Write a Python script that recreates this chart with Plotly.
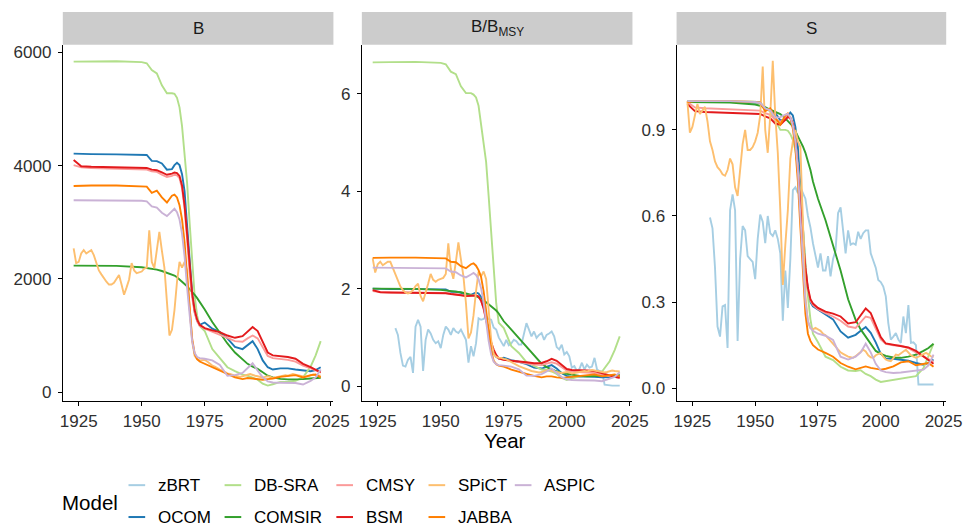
import plotly.graph_objects as go

# ---------------- data ----------------
models = ["zBRT", "OCOM", "DB-SRA", "COMSIR", "CMSY", "BSM", "SPiCT", "JABBA", "ASPIC"]
colors = ["#A6CEE3", "#1F78B4", "#B2DF8A", "#33A02C", "#FB9A99", "#E31A1C", "#FDBF6F", "#FF7F00", "#CAB2D6"]
panel_titles = ["B", "B/B<sub>MSY</sub>", "S"]

# common year grid for the smooth model trajectories
grid_years = [1923, 1926, 1930, 1940, 1950, 1952, 1954, 1956, 1958, 1960,
              1962, 1963, 1964, 1965, 1966, 1967, 1968, 1969, 1970, 1971, 1972, 1973,
              1975, 1978, 1981, 1984, 1987, 1990,
              1992, 1994, 1996, 1998, 2000,
              2002, 2005, 2008, 2011, 2014, 2017, 2019, 2021]

# ---- panel B (biomass)
b_ocom = [4213, 4208, 4205, 4200, 4195, 4190, 4085, 4080, 4040, 3930,
          3940, 4010, 4050, 4010, 3850, 3550, 2950, 2250, 1750, 1420, 1260, 1190,
          1230, 1120, 1060, 950, 800, 760,
          830, 900, 760, 560, 440,
          400, 420, 420, 400, 380, 370, 390, 440]
b_dbsra = [5838, 5840, 5840, 5845, 5830, 5810, 5690, 5630, 5420, 5280,
           5280, 5270, 5200, 5030, 4700, 4200, 3700, 3000, 2300, 1700, 1350, 1170,
           1080, 760, 600, 440, 370, 310,
           290, 260, 220, 150, 115,
           140, 180, 185, 200, 260, 450, 650, 900]
b_comsir = [2235, 2235, 2235, 2230, 2205, 2195, 2180, 2165, 2140, 2110,
            2080, 2060, 2030, 1990, 1960, 1920, 1870, 1820, 1775, 1720, 1660, 1600,
            1460, 1240, 1040, 860, 700, 570,
            500, 450, 410, 350, 290,
            260, 235, 225, 225, 230, 240, 250, 255]
b_cmsy = [4010, 3970, 3960, 3950, 3940, 3930, 3900, 3890, 3840, 3800,
          3820, 3840, 3830, 3780, 3600, 3250, 2700, 2100, 1680, 1400, 1250, 1170,
          1120, 1070, 1020, 960, 900, 890,
          950, 1000, 950, 800, 640,
          600, 590, 570, 540, 470, 420, 380, 350]
b_bsm = [4100, 3990, 3980, 3970, 3960, 3960, 3930, 3920, 3880, 3840,
         3860, 3880, 3870, 3820, 3650, 3300, 2800, 2200, 1750, 1450, 1280, 1190,
         1130, 1090, 1060, 1000, 960, 990,
         1070, 1150, 1080, 900, 700,
         650, 640, 620, 590, 500, 440, 400, 350]
b_jabba = [3640, 3650, 3650, 3650, 3640, 3630, 3520, 3560, 3440, 3350,
           3470, 3490, 3440, 3300, 3050, 2650, 2050, 1450, 950, 680, 580, 540,
           500, 440, 380, 310, 260, 230,
           250, 240, 230, 220, 230,
           240, 270, 290, 300, 260, 300, 310, 260]
b_aspic = [3390, 3390, 3390, 3390, 3380, 3370, 3280, 3260, 3170, 3110,
           3200, 3240, 3180, 3050, 2800, 2400, 1850, 1300, 900, 690, 620, 600,
           590, 560, 480, 290, 300, 340,
           420, 510, 380, 260, 190,
           170, 165, 165, 160, 135, 200, 260, 400]

# ---- panel B/BMSY
r_ocom = [2.0, 1.995, 1.99, 1.99, 1.99, 1.985, 1.935, 1.935, 1.915, 1.86,
          1.87, 1.90, 1.92, 1.90, 1.83, 1.68, 1.40, 1.07, 0.83, 0.67, 0.60, 0.565,
          0.58, 0.53, 0.50, 0.45, 0.38, 0.36,
          0.39, 0.43, 0.36, 0.265, 0.21,
          0.19, 0.20, 0.20, 0.19, 0.18, 0.175, 0.185, 0.21]
r_dbsra = [6.64, 6.645, 6.645, 6.65, 6.63, 6.60, 6.45, 6.40, 6.15, 6.01,
           6.01, 5.98, 5.92, 5.75, 5.40, 5.00, 4.60, 3.90, 3.20, 2.30, 1.70, 1.30,
           1.19, 0.82, 0.68, 0.49, 0.41, 0.34,
           0.33, 0.30, 0.25, 0.17, 0.125,
           0.16, 0.20, 0.20, 0.23, 0.30, 0.51, 0.74, 1.02]
r_comsir = [2.0, 2.0, 2.0, 1.995, 1.975, 1.965, 1.955, 1.945, 1.925, 1.90,
            1.88, 1.865, 1.845, 1.82, 1.79, 1.76, 1.72, 1.68, 1.64, 1.595, 1.55, 1.49,
            1.33, 1.16, 0.98, 0.82, 0.63, 0.46,
            0.39, 0.34, 0.30, 0.27, 0.25,
            0.23, 0.21, 0.20, 0.20, 0.205, 0.215, 0.225, 0.23]
r_cmsy = [1.95, 1.93, 1.92, 1.92, 1.915, 1.91, 1.895, 1.89, 1.87, 1.85,
          1.86, 1.87, 1.865, 1.84, 1.75, 1.58, 1.32, 1.06, 0.85, 0.70, 0.61, 0.57,
          0.54, 0.52, 0.50, 0.47, 0.44, 0.43,
          0.46, 0.49, 0.46, 0.39, 0.32,
          0.30, 0.29, 0.28, 0.27, 0.23, 0.20, 0.185, 0.17]
r_bsm = [1.97, 1.925, 1.92, 1.91, 1.91, 1.905, 1.89, 1.885, 1.865, 1.845,
         1.855, 1.865, 1.86, 1.84, 1.75, 1.60, 1.35, 1.10, 0.90, 0.75, 0.64, 0.57,
         0.54, 0.52, 0.51, 0.49, 0.47, 0.475,
         0.51, 0.56, 0.52, 0.43, 0.35,
         0.33, 0.33, 0.32, 0.31, 0.26, 0.21, 0.19, 0.17]
r_jabba = [2.63, 2.635, 2.635, 2.635, 2.63, 2.62, 2.55, 2.54, 2.46, 2.42,
           2.50, 2.52, 2.47, 2.38, 2.24, 1.95, 1.55, 1.10, 0.72, 0.52, 0.45, 0.42,
           0.40, 0.34, 0.29, 0.25, 0.21, 0.18,
           0.20, 0.20, 0.18, 0.17, 0.18,
           0.19, 0.21, 0.22, 0.24, 0.20, 0.23, 0.24, 0.20]
r_aspic = [2.43, 2.43, 2.43, 2.43, 2.425, 2.415, 2.35, 2.335, 2.27, 2.23,
           2.29, 2.32, 2.28, 2.19, 2.01, 1.72, 1.33, 0.93, 0.65, 0.50, 0.45, 0.43,
           0.42, 0.40, 0.345, 0.215, 0.21, 0.245,
           0.30, 0.365, 0.27, 0.185, 0.14,
           0.125, 0.12, 0.12, 0.115, 0.10, 0.145, 0.19, 0.285]

# ---- panel S
s_ocom = [1.0, 0.999, 0.998, 0.997, 0.996, 0.995, 0.97, 0.968, 0.959, 0.933,
          0.935, 0.95, 0.96, 0.95, 0.91, 0.84, 0.70, 0.53, 0.42, 0.34, 0.30, 0.285,
          0.275, 0.257, 0.24, 0.198, 0.176, 0.186,
          0.20, 0.213, 0.193, 0.16, 0.12,
          0.104, 0.103, 0.10, 0.096, 0.088, 0.082, 0.088, 0.10]
s_dbsra = [1.0, 1.0, 1.0, 1.0, 0.998, 0.995, 0.975, 0.965, 0.93, 0.90,
           0.90, 0.897, 0.885, 0.865, 0.83, 0.77, 0.68, 0.56, 0.44, 0.32, 0.24, 0.19,
           0.16, 0.11, 0.098, 0.075, 0.062, 0.06,
           0.063, 0.05, 0.042, 0.03, 0.022,
           0.025, 0.03, 0.033, 0.037, 0.042, 0.07, 0.11, 0.155]
s_comsir = [0.997, 0.997, 0.997, 0.995, 0.988, 0.984, 0.979, 0.97, 0.962, 0.955,
            0.94, 0.93, 0.92, 0.912, 0.895, 0.875, 0.86, 0.842, 0.82, 0.79, 0.76, 0.72,
            0.66, 0.585, 0.50, 0.41, 0.31, 0.238,
            0.205, 0.18, 0.155, 0.13, 0.12,
            0.113, 0.107, 0.106, 0.11, 0.117, 0.13, 0.14, 0.155]
s_cmsy = [0.997, 0.978, 0.975, 0.972, 0.97, 0.967, 0.958, 0.952, 0.935, 0.928,
          0.94, 0.948, 0.945, 0.925, 0.865, 0.77, 0.645, 0.52, 0.41, 0.345, 0.305, 0.29,
          0.275, 0.262, 0.25, 0.235, 0.215, 0.21,
          0.232, 0.25, 0.245, 0.21, 0.17,
          0.155, 0.15, 0.148, 0.14, 0.125, 0.11, 0.10, 0.092]
s_bsm = [0.99, 0.965, 0.962, 0.96, 0.958, 0.955, 0.947, 0.94, 0.922, 0.918,
         0.935, 0.945, 0.94, 0.92, 0.86, 0.76, 0.64, 0.52, 0.42, 0.35, 0.31, 0.295,
         0.28, 0.267, 0.26, 0.25, 0.226, 0.23,
         0.255, 0.278, 0.262, 0.22, 0.178,
         0.156, 0.152, 0.147, 0.142, 0.13, 0.11, 0.098, 0.085]
s_jabba = [0.997, 1.0, 1.0, 1.0, 0.997, 0.995, 0.965, 0.975, 0.942, 0.918,
           0.95, 0.957, 0.942, 0.904, 0.835, 0.72, 0.56, 0.40, 0.26, 0.19, 0.165, 0.15,
           0.135, 0.123, 0.11, 0.088, 0.075, 0.066,
           0.072, 0.076, 0.071, 0.068, 0.065,
           0.068, 0.076, 0.09, 0.094, 0.08, 0.086, 0.088, 0.075]
s_aspic = [1.0, 1.0, 1.0, 1.0, 0.997, 0.994, 0.975, 0.968, 0.942, 0.944,
           0.953, 0.956, 0.944, 0.915, 0.86, 0.76, 0.60, 0.43, 0.30, 0.235, 0.21, 0.20,
           0.19, 0.183, 0.168, 0.11, 0.10, 0.11,
           0.125, 0.155, 0.125, 0.085, 0.062,
           0.056, 0.053, 0.055, 0.058, 0.06, 0.065, 0.08, 0.117]

# ---- annual series (noisy models)
spict_years = list(range(1923, 2022))
spict_b = [2540, 2280, 2300, 2450, 2510, 2450, 2480, 2510, 2420, 2300,
           2150, 2080, 2010, 1950, 1900, 1900, 1930, 2000, 2070, 1900,
           1720, 1850, 1990, 2280, 2150, 2100, 2120, 2130, 2180, 2200,
           2860, 2300, 2190, 2500, 2830, 2500, 2200, 1600, 1000, 1100,
           1450, 1950, 2300, 2200, 2300, 2150, 1500, 900, 640, 580,
           560, 560, 570, 540, 500, 470, 450, 420, 400, 380,
           350, 330, 320, 300, 290, 280, 270, 280, 300, 310,
           320, 300, 290, 280, 270, 260, 270, 280, 270, 250,
           260, 270, 280, 290, 300, 290, 300, 320, 310, 300,
           290, 280, 270, 280, 300, 310, 300, 290, 290]
spict_r = [2.62, 2.33, 2.50, 2.55, 2.48, 2.52, 2.55, 2.55, 2.42, 2.28,
           2.15, 2.04, 1.97, 1.92, 1.90, 1.92, 1.97, 2.05, 2.10, 1.85,
           1.74, 1.95, 2.10, 2.30, 2.18, 2.14, 2.18, 2.20, 2.22, 2.30,
           2.93, 2.40, 2.20, 2.55, 2.95, 2.60, 2.25, 1.70, 0.98, 1.10,
           1.45, 1.95, 2.35, 2.25, 2.35, 2.20, 1.60, 0.95, 0.66, 0.60,
           0.58, 0.58, 0.56, 0.55, 0.52, 0.49, 0.46, 0.44, 0.41, 0.39,
           0.37, 0.34, 0.33, 0.31, 0.30, 0.29, 0.28, 0.29, 0.31, 0.32,
           0.33, 0.31, 0.30, 0.29, 0.28, 0.27, 0.28, 0.29, 0.28, 0.26,
           0.27, 0.28, 0.29, 0.30, 0.31, 0.30, 0.31, 0.33, 0.32, 0.31,
           0.30, 0.29, 0.28, 0.29, 0.31, 0.32, 0.31, 0.30, 0.30]
spict_s = [1.00, 0.89, 0.91, 0.95, 0.99, 0.955, 0.97, 0.98, 0.93, 0.86,
           0.83, 0.79, 0.77, 0.76, 0.745, 0.74, 0.76, 0.80, 0.78, 0.70,
           0.67, 0.76, 0.85, 0.90, 0.83, 0.83, 0.84, 0.86, 0.89, 0.95,
           1.12, 0.90, 0.82, 0.95, 1.14, 0.95, 0.82, 0.62, 0.36, 0.50,
           0.62, 0.80, 0.86, 0.90, 0.86, 0.84, 0.55, 0.32, 0.23, 0.21,
           0.205, 0.21, 0.205, 0.20, 0.19, 0.185, 0.175, 0.165, 0.155, 0.145,
           0.135, 0.125, 0.12, 0.115, 0.11, 0.108, 0.106, 0.112, 0.12, 0.128,
           0.134, 0.128, 0.115, 0.108, 0.106, 0.115, 0.12, 0.123, 0.11, 0.10,
           0.096, 0.094, 0.105, 0.117, 0.115, 0.12, 0.128, 0.134, 0.125, 0.115,
           0.11, 0.106, 0.11, 0.115, 0.12, 0.123, 0.118, 0.111, 0.11]

zbrt_years = list(range(1932, 2022))
zbrt_r = [1.19, 1.05, 0.68, 0.42, 0.40, 0.54, 0.60, 0.27, 1.22, 1.36,
          1.22, 0.31, 0.95, 1.16, 1.08, 0.95, 0.88, 0.92, 0.78, 1.05,
          1.22, 1.16, 1.05, 1.19, 1.12, 1.09, 1.16, 1.05, 0.95, 0.48,
          0.82, 0.61, 0.88, 1.39, 1.36, 1.38, 1.43, 1.38, 1.36, 1.20,
          1.16, 1.00, 0.90, 0.82, 0.95, 0.84, 0.88, 0.95, 0.92, 0.85,
          0.85, 1.05, 1.29, 1.16, 1.02, 1.12, 0.99, 1.05, 1.09, 0.95,
          1.05, 1.08, 1.12, 1.02, 0.80, 0.75, 0.85, 0.65, 0.70, 0.61,
          0.38, 0.41, 0.31, 0.35, 0.48, 0.34, 0.44, 0.38, 0.40, 0.58,
          0.34, 0.31, 0.30, 0.03, 0.02, 0.01, 0.01, 0.01, 0.01, 0.01]
zbrt_s = [0.595, 0.557, 0.42, 0.215, 0.18, 0.285, 0.29, 0.14, 0.62, 0.675,
          0.62, 0.165, 0.45, 0.565, 0.55, 0.46, 0.45, 0.44, 0.38, 0.52,
          0.605, 0.58, 0.505, 0.60, 0.54, 0.53, 0.55, 0.52, 0.47, 0.235,
          0.41, 0.28, 0.45, 0.69, 0.70, 0.68, 0.70, 0.68, 0.66, 0.60,
          0.56, 0.505, 0.46, 0.42, 0.47, 0.41, 0.41, 0.46, 0.39, 0.45,
          0.48, 0.61, 0.63, 0.55, 0.47, 0.55, 0.50, 0.505, 0.50, 0.545,
          0.52, 0.54, 0.55, 0.55, 0.47, 0.445, 0.42, 0.377, 0.37, 0.354,
          0.32, 0.227, 0.169, 0.18, 0.192, 0.17, 0.158, 0.25, 0.192, 0.29,
          0.158, 0.16, 0.15, 0.013, 0.013, 0.013, 0.013, 0.013, 0.013, 0.013]

y_ticks = [[0, 2000, 4000, 6000], [0, 2, 4, 6], [0.0, 0.3, 0.6, 0.9]]
y_ticktext = [["0", "2000", "4000", "6000"], ["0", "2", "4", "6"], ["0.0", "0.3", "0.6", "0.9"]]
x_ticks = [1925, 1950, 1975, 2000, 2025]

# ---------------- assemble ----------------
panel_series = [
    {"OCOM": (grid_years, b_ocom), "DB-SRA": (grid_years, b_dbsra), "COMSIR": (grid_years, b_comsir),
     "CMSY": (grid_years, b_cmsy), "BSM": (grid_years, b_bsm), "SPiCT": (spict_years, spict_b),
     "JABBA": (grid_years, b_jabba), "ASPIC": (grid_years, b_aspic)},
    {"zBRT": (zbrt_years, zbrt_r), "OCOM": (grid_years, r_ocom), "DB-SRA": (grid_years, r_dbsra),
     "COMSIR": (grid_years, r_comsir), "CMSY": (grid_years, r_cmsy), "BSM": (grid_years, r_bsm),
     "SPiCT": (spict_years, spict_r), "JABBA": (grid_years, r_jabba), "ASPIC": (grid_years, r_aspic)},
    {"zBRT": (zbrt_years, zbrt_s), "OCOM": (grid_years, s_ocom), "DB-SRA": (grid_years, s_dbsra),
     "COMSIR": (grid_years, s_comsir), "CMSY": (grid_years, s_cmsy), "BSM": (grid_years, s_bsm),
     "SPiCT": (spict_years, spict_s), "JABBA": (grid_years, s_jabba), "ASPIC": (grid_years, s_aspic)},
]

W, H = 972, 527


def fx(px):
    return px / W


def fy(py):
    return 1 - py / H


FONT = "Liberation Sans, Arial, Helvetica, sans-serif"
TXT = "#303030"
SMALL = 17
BIG = 20.5
panel_px = [(61, 337), (366, 642), (687, 962)]
plot_top, plot_bot = 44, 402
strip_top = 11
y_ranges = [[-165, 6135], [-0.315, 7.0], [-0.046, 1.196]]
x_range = [1918.7, 2026.05]

fig = go.Figure()
layout = dict(width=W, height=H, margin=dict(l=0, r=0, t=0, b=0),
              paper_bgcolor="white", plot_bgcolor="white", showlegend=False,
              font=dict(family=FONT, color=TXT))
shapes, annotations = [], []

for i in range(3):
    xa = "x" if i == 0 else f"x{i+1}"
    ya = "y" if i == 0 else f"y{i+1}"
    x0, x1 = panel_px[i]
    layout["xaxis" if i == 0 else f"xaxis{i+1}"] = dict(
        domain=[fx(x0), fx(x1)], anchor=ya, range=x_range, tickvals=x_ticks,
        showline=True, linecolor="black", linewidth=1, ticks="outside", ticklen=4,
        tickcolor="black", tickwidth=1, showgrid=False, zeroline=False,
        tickfont=dict(size=SMALL, color=TXT, family=FONT))
    layout["yaxis" if i == 0 else f"yaxis{i+1}"] = dict(
        domain=[fy(plot_bot), fy(plot_top)], anchor=xa, range=y_ranges[i],
        tickvals=y_ticks[i], ticktext=y_ticktext[i],
        showline=True, linecolor="black", linewidth=1, ticks="outside", ticklen=4,
        tickcolor="black", tickwidth=1, showgrid=False, zeroline=False,
        ticklabelstandoff=3,
        tickfont=dict(size=SMALL, color=TXT, family=FONT))
    for m, c in zip(models, colors):
        if m in panel_series[i]:
            xs, ys = panel_series[i][m]
            fig.add_trace(go.Scatter(x=xs, y=ys, mode="lines", name=m,
                                     line=dict(color=c, width=1.9),
                                     xaxis=xa, yaxis=ya, showlegend=False))
    # strip
    shapes.append(dict(type="rect", xref="paper", yref="paper", x0=fx(x0), x1=fx(x1),
                       y0=fy(plot_top), y1=fy(strip_top),
                       fillcolor="#CCCCCC", line=dict(width=0), layer="below"))
    annotations.append(dict(text=panel_titles[i], xref="paper", yref="paper",
                            x=fx((x0 + x1) / 2), y=fy((strip_top + plot_top) / 2),
                            xanchor="center", yanchor="middle", showarrow=False,
                            font=dict(size=SMALL, color="#1a1a1a", family=FONT)))

# axis title
annotations.append(dict(text="Year", xref="paper", yref="paper", x=fx(511.5), y=fy(441),
                        xanchor="center", yanchor="middle", showarrow=False,
                        font=dict(size=BIG, color="black", family=FONT)))

# legend (2 rows, filled column-wise like ggplot)
annotations.append(dict(text="Model", xref="paper", yref="paper", x=fx(58), y=fy(503),
                        xanchor="left", yanchor="middle", showarrow=False,
                        font=dict(size=BIG, color="black", family=FONT)))
col_key_x = [128, 226, 340, 434, 522]
row_y = [486, 518]
for k, (m, c) in enumerate(zip(models, colors)):
    col, row = k // 2, k % 2
    kx = col_key_x[col]
    ky = row_y[row]
    shapes.append(dict(type="line", xref="paper", yref="paper", x0=fx(kx), x1=fx(kx + 17),
                       y0=fy(ky), y1=fy(ky), line=dict(color=c, width=2)))
    annotations.append(dict(text=m, xref="paper", yref="paper", x=fx(kx + 28), y=fy(ky),
                            xanchor="left", yanchor="middle", showarrow=False,
                            font=dict(size=SMALL, color="black", family=FONT)))

layout["shapes"] = shapes
layout["annotations"] = annotations
fig.update_layout(**layout)
fig.write_html("out.html", config={"displayModeBar": False, "staticPlot": True},
               post_script="document.body.style.margin='0';document.body.style.overflow='hidden';")
